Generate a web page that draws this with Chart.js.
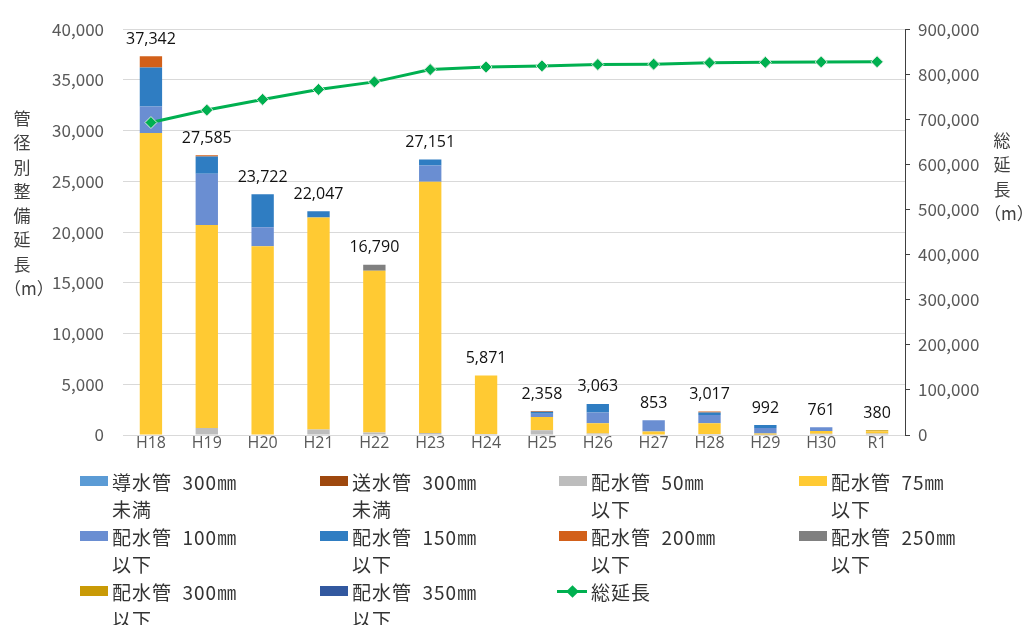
<!DOCTYPE html>
<html><head><meta charset="utf-8">
<script src="https://cdn.jsdelivr.net/npm/chart.js@4.4.1/dist/chart.umd.min.js"></script>
<style>
html,body{margin:0;padding:0;background:#fff;}
#wrap{position:relative;width:1022px;height:625px;overflow:hidden;}
#c{position:absolute;left:0;top:0;}
.ttl{position:absolute;font-family:'Noto Sans CJK JP';font-size:17px;line-height:24.3px;color:#404040;text-align:center;}
.lg{position:absolute;font-family:'Noto Sans CJK JP';font-size:19px;letter-spacing:1px;line-height:27px;color:#333;}
.sw{position:absolute;width:28px;height:10px;}
.tx{position:absolute;white-space:nowrap;}
</style></head>
<body><div id="wrap"><canvas id="c" width="1022" height="625"></canvas>
<div class="ttl" style="left:4px;top:106px;width:36px;">管<br>径<br>別<br>整<br>備<br>延<br>長<br>（m）</div>
<div class="ttl" style="left:984px;top:128px;width:36px;">総<br>延<br>長<br>（m）</div>
<div id="legend"></div>
</div>
<script>
const categories = ['H18','H19','H20','H21','H22','H23','H24','H25','H26','H27','H28','H29','H30','R1'];
const totalLabels = ['37,342','27,585','23,722','22,047','16,790','27,151','5,871','2,358','3,063','853','3,017','992','761','380'];
const seriesNames = ['導水管 300㎜\n未満','送水管 300㎜\n未満','配水管 50㎜\n以下','配水管 75㎜\n以下','配水管 100㎜\n以下','配水管 150㎜\n以下','配水管 200㎜\n以下','配水管 250㎜\n以下','配水管 300㎜\n以下','配水管 350㎜\n以下'];
const conduit300 = [0,0,0,0,0,0,0,0,0,0,0,0,0,0];
const transmit300 = [0,0,0,0,0,0,0,0,0,0,0,0,0,-100];
const dist50  = [0,700,0,550,250,200,100,460,160,-150,100,20,120,150];
const dist75  = [29760,20010,18600,20880,15950,24775,5771,1310,1000,350,1070,130,270,220];
const dist100 = [2630,5050,1890,0,0,1595,0,330,1065,1100,810,550,370,0];
const dist150 = [3830,1680,3232,617,0,581,0,190,838,0,230,290,0,0];
const dist200 = [1122,145,0,0,0,0,0,68,0,0,100,0,0,0];
const dist250 = [0,0,0,0,590,0,0,0,0,0,0,0,0,0];
const dist300 = [0,0,0,0,0,0,0,0,0,0,0,0,0,110];
const dist350 = [0,0,0,0,0,0,0,0,0,0,0,0,0,0];
const totalLength = [693000,720600,744300,766400,783200,810400,816200,818600,821700,822500,825500,826500,827300,827700];
const lineName = '総延長';
const colors = ['#5B9BD5','#9E480E','#BDBDBD','#FFCA33','#6A8ED2','#2F7DC2','#D2601A','#808080','#C99A06','#32589F'];
const seriesData = [conduit300,transmit300,dist50,dist75,dist100,dist150,dist200,dist250,dist300,dist350];
const green = '#00B050';

const barSets = seriesData.map((d,i)=>({
  type:'bar', label:seriesNames[i], data:d, backgroundColor:colors[i],
  borderWidth:0, yAxisID:'y', stack:'s', order:2,
  categoryPercentage:1.0, barPercentage:0.4
}));
const lineSet = {
  type:'line', label:lineName, data:totalLength, yAxisID:'y1', order:0,
  borderColor:green, borderWidth:3, backgroundColor:green,
  pointStyle:'rectRot', pointRadius:6, pointBackgroundColor:green,
  pointBorderColor:'#d8e8dc', pointBorderWidth:1, tension:0
};

const labelPlugin = {
  id:'totals',
  afterDatasetsDraw(chart){
    const ctx = chart.ctx, ys = chart.scales.y;
    const meta = chart.getDatasetMeta(0);
    ctx.save();
    ctx.font = '16px "Open Sans"';
    ctx.fillStyle = '#111';
    ctx.textAlign = 'center';
    ctx.textBaseline = 'middle';
    categories.forEach((c,i)=>{
      let pos = 0;
      seriesData.forEach(d=>{ if(d[i]>0) pos += d[i]; });
      const x = meta.data[i].x;
      const y = ys.getPixelForValue(pos) - 17;
      ctx.fillText(totalLabels[i], x, y);
    });
    ctx.restore();
  }
};

const tickFont = {family:'"Noto Sans CJK JP"', size:17};
new Chart(document.getElementById('c'), {
  data:{labels:categories, datasets:[lineSet, ...barSets]},
  options:{
    responsive:false, animation:false, devicePixelRatio:1,
    layout:{padding:{top:25,left:0,right:0,bottom:0}},
    plugins:{legend:{display:false}, tooltip:{enabled:false}},
    scales:{
      x:{stacked:true, grid:{display:false, drawTicks:false}, border:{display:false},
         ticks:{font:{family:'"Open Sans"', size:16}, color:'#595959', padding:-1},
         afterFit(s){ s.height = 190; }},
      y:{stacked:true, position:'left', min:0, max:40000,
         ticks:{stepSize:5000, font:tickFont, color:'#595959', padding:19,
                callback:v=>v.toLocaleString('en-US')},
         grid:{color:'#d9d9d9', drawTicks:false, lineWidth:1}, border:{display:false},
         afterFit(s){ s.width = 123; }},
      y1:{position:'right', min:0, max:900000,
         ticks:{stepSize:100000, font:tickFont, color:'#595959', padding:8,
                callback:v=>v.toLocaleString('en-US')},
         grid:{drawOnChartArea:false, drawTicks:true, tickLength:5, color:'#404040'},
         border:{display:true, color:'#404040', width:1},
         afterFit(s){ s.width = 117; }}
    }
  },
  plugins:[labelPlugin]
});

// HTML legend
const lg = document.getElementById('legend');
const colX = [80,320,559,799];
const rowY = [481,536,591];
const items = seriesNames.map((n,i)=>({name:n, color:colors[i], line:false}));
items.push({name:lineName, color:green, line:true});
items.forEach((it,k)=>{
  const cx = colX[k%4], cy = rowY[Math.floor(k/4)];
  if(it.line){
    const l = document.createElement('div');
    l.style.cssText = `position:absolute;left:${cx-2}px;top:${cy-1.5}px;width:30px;height:3px;background:${it.color};`;
    lg.appendChild(l);
    const d = document.createElement('div');
    d.style.cssText = `position:absolute;left:${cx+9}px;top:${cy-4.5}px;width:9px;height:9px;background:${it.color};transform:rotate(45deg);`;
    lg.appendChild(d);
  } else {
    const s = document.createElement('div');
    s.className='sw';
    s.style.left = cx+'px'; s.style.top = (cy-5)+'px'; s.style.background = it.color;
    lg.appendChild(s);
  }
  const t = document.createElement('div');
  t.className='lg tx';
  t.style.left = (cx+32)+'px'; t.style.top = (cy-13.5)+'px';
  t.innerHTML = it.name.replace(' ','&nbsp;&nbsp;').replace('\n','<br>');
  lg.appendChild(t);
});
</script>
</body></html>
